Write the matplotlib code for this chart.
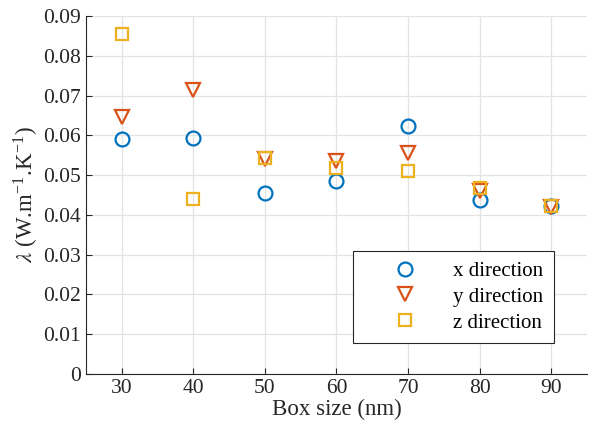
import matplotlib.pyplot as plt

box_size = [30, 40, 50, 60, 70, 80, 90]
lam_x = [0.0590, 0.0594, 0.0454, 0.0484, 0.0623, 0.0437, 0.0422]
lam_y = [0.0645, 0.0714, 0.0541, 0.0536, 0.0556, 0.0460, 0.0420]
lam_z = [0.0854, 0.0440, 0.0544, 0.0519, 0.0510, 0.0468, 0.0422]
y_ticks = [0, 0.01, 0.02, 0.03, 0.04, 0.05, 0.06, 0.07, 0.08, 0.09]
y_tick_labels = ["0", "0.01", "0.02", "0.03", "0.04", "0.05", "0.06", "0.07", "0.08", "0.09"]

plt.rcParams["font.family"] = ["Liberation Serif", "DejaVu Serif"]
plt.rcParams["mathtext.fontset"] = "stix"
plt.rcParams["axes.unicode_minus"] = False

fig = plt.figure(figsize=(5.91, 4.30), dpi=100)
ax = fig.add_axes([0.1455, 0.1302, 0.8477, 0.8326])

style = dict(linestyle="none", markersize=10, markeredgewidth=1.6, markerfacecolor="none")
ax.plot(box_size, lam_x, marker="o", color="#0072BD", label="x direction", **style)
ax.plot(box_size, lam_y, marker="v", color="#D95319", label="y direction", **style)
ax.plot(box_size, lam_z, marker="s", markersize=8, color="#EDB120", label="z direction",
        linestyle="none", markeredgewidth=1.6, markerfacecolor="none")

ax.set_xlim(25, 95)
ax.set_ylim(0, 0.09)
ax.set_xticks(box_size)
ax.set_yticks(y_ticks)
ax.set_yticklabels(y_tick_labels)
ax.grid(True, color="#E3E3E3", linewidth=0.9)
ax.set_axisbelow(True)

for side in ["top", "right"]:
    ax.spines[side].set_visible(False)
for side in ["left", "bottom"]:
    ax.spines[side].set_color("#262626")
    ax.spines[side].set_linewidth(0.8)
ax.tick_params(direction="in", length=4, width=0.8, colors="#262626", labelsize=15.5, labelcolor="#262626")

ax.set_xlabel("Box size (nm)", fontsize=16.5, color="#262626", labelpad=1)
ax.set_ylabel(r"$\lambda$ (W.m$^{\mathregular{-1}}$.K$^{\mathregular{-1}}$)", fontsize=16.5, color="#262626", labelpad=2)

leg = ax.legend(loc="upper left", bbox_to_anchor=(0.533, 0.344), borderaxespad=0,
                fontsize=15, handlelength=4.0, handletextpad=0.3, borderpad=0.5,
                labelspacing=0.3, fancybox=False, framealpha=1, edgecolor="#262626")
leg.get_frame().set_linewidth(0.8)

fig.savefig("out.png", dpi=100)
